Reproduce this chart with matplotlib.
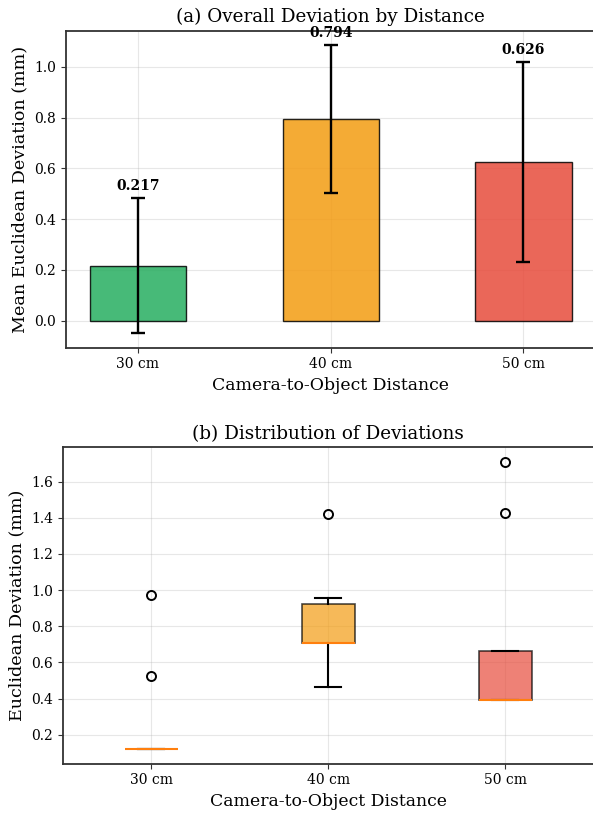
import numpy as np
import matplotlib
matplotlib.use("Agg")
import matplotlib.pyplot as plt

plt.rcParams['font.family'] = 'DejaVu Serif'

# Datos
distancias = ['30 cm', '40 cm', '50 cm']
media_desviacion = [0.217, 0.794, 0.626]
std_desviacion = [0.267, 0.292, 0.395]
colores = ['#27ae60', '#f39c12', '#e74c3c']

# Muestras por distancia (para el boxplot)
dev_30 = [0.12, 0.12, 0.12, 0.12, 0.12, 0.12, 0.12, 0.12, 0.527, 0.972]
dev_40 = [0.465, 0.709, 0.709, 0.709, 0.709, 0.92, 0.924, 0.957, 1.42]
dev_50 = [0.393, 0.393, 0.393, 0.393, 0.393, 0.393, 0.665, 0.665, 0.665, 1.428, 1.71]

fig = plt.figure(figsize=(5.93, 8.14), dpi=100)

# (a) Barras con error
ax1 = fig.add_axes([0.1108, 0.5728, 0.8938, 0.3894])
x = np.arange(len(distancias))
ax1.bar(x, media_desviacion, width=0.5, yerr=std_desviacion, color=colores,
        alpha=0.85, edgecolor='black', linewidth=1.0, capsize=5,
        error_kw={'elinewidth': 1.7, 'capthick': 1.7, 'ecolor': 'black'})
for i in range(len(distancias)):
    ax1.text(x[i], media_desviacion[i] + std_desviacion[i] + 0.02,
             f'{media_desviacion[i]:.3f}', ha='center', va='bottom',
             fontweight='bold', fontsize=10)
ax1.set_xticks(x)
ax1.set_xticklabels(distancias)
ax1.set_title('(a) Overall Deviation by Distance', fontsize=13.2)
ax1.set_xlabel('Camera-to-Object Distance', fontsize=12.4)
ax1.set_ylabel('Mean Euclidean Deviation (mm)', fontsize=12.6)
ax1.grid(True, alpha=0.3)
ax1.set_axisbelow(True)

# (b) Boxplot
ax2 = fig.add_axes([0.1057, 0.0618, 0.8954, 0.3887])
bp = ax2.boxplot([dev_30, dev_40, dev_50], patch_artist=True,
                 boxprops={'linewidth': 1.2}, whiskerprops={'linewidth': 1.5},
                 capprops={'linewidth': 1.5}, medianprops={'linewidth': 1.5},
                 flierprops={'markersize': 6.5, 'markeredgewidth': 1.4})
for caja, c in zip(bp['boxes'], colores):
    caja.set_facecolor(c)
    caja.set_alpha(0.7)
ax2.set_xticks([1, 2, 3])
ax2.set_xticklabels(distancias)
ax2.set_title('(b) Distribution of Deviations', fontsize=13.2)
ax2.set_xlabel('Camera-to-Object Distance', fontsize=12.4)
ax2.set_ylabel('Euclidean Deviation (mm)', fontsize=12.6)
ax2.grid(True, alpha=0.3)
ax2.set_axisbelow(True)

for ax in (ax1, ax2):
    for s in ax.spines.values():
        s.set_color('#333333')
        s.set_linewidth(1.3)
    ax.tick_params(labelsize=10, color='#333333')

fig.savefig('out.png', dpi=100)
